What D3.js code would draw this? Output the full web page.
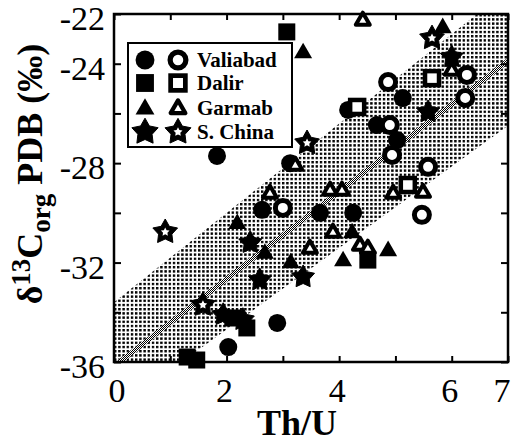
<!DOCTYPE html>
<html>
<head>
<meta charset="utf-8">
<script src="https://cdn.jsdelivr.net/npm/d3@7"></script>
<style>
  body { margin: 0; background: #fff; }
  text { font-family: "Liberation Serif", "Times New Roman", serif; }
</style>
</head>
<body>
<div id="chart"></div>
<script>
// data: [Th/U, d13C org]
var valiabadFilled = [[1.83,-27.71],[2.03,-35.40],[2.90,-34.43],[3.13,-28.0],[2.63,-29.88],[3.66,-30.0],[4.25,-30.0],[4.16,-25.86],[4.67,-26.47],[5.13,-25.38],[5.03,-27.07]];
var valiabadOpen = [[4.87,-24.74],[6.27,-24.45],[6.24,-25.38],[4.90,-26.47],[4.94,-27.67],[5.58,-28.15],[5.47,-30.08],[3.0,-29.8]];
var dalirFilled = [[3.07,-22.72],[4.51,-31.9],[2.36,-34.63],[1.30,-35.8],[1.47,-35.92],[2.11,-34.23]];
var dalirOpen = [[4.32,-25.74],[5.65,-24.58],[5.22,-28.88]];
var garmabFilled = [[3.36,-23.53],[5.84,-22.52],[4.23,-30.77],[4.87,-31.49],[4.07,-31.9],[2.19,-30.4],[2.68,-31.6],[3.14,-31.98]];
var garmabOpen = [[4.42,-22.24],[6.0,-24.25],[3.22,-28.07],[2.77,-29.2],[3.84,-29.08],[4.05,-29.08],[4.96,-29.2],[5.49,-29.16],[3.89,-30.77],[3.48,-31.41],[4.37,-31.29],[4.51,-31.41]];
var chinaFilled = [[6.0,-23.73],[5.58,-25.94],[3.36,-32.58],[2.42,-31.2],[2.59,-32.7],[1.94,-34.1],[2.29,-34.3]];
var chinaOpen = [[5.65,-22.97],[3.43,-27.19],[0.91,-30.77],[1.58,-33.7]];

// regression line and the shaded band round it
var fitLine = [[0.1,-36],[7,-23.88]];
var bandUpper = [[0,-33.6],[6.45,-22]];
var bandLower = [[1.2,-36],[7,-26.5]];

var xTickLabels = [0, 2, 4, 6, 7];
var yTickLabels = [-22, -24, -28, -32, -36];
var legendNames = ["Valiabad", "Dalir", "Garmab", "S. China"];

var svgWidth = 513;
var svgHeight = 443;
var margin = { top: 14, right: 5, bottom: 81, left: 114 };
var width = svgWidth - margin.left - margin.right;
var height = svgHeight - margin.top - margin.bottom;

var svg = d3.select("#chart")
    .append("svg")
    .attr("width", svgWidth)
    .attr("height", svgHeight);

var defs = svg.append("defs");

// stipple for the band
var stip = defs.append("pattern")
    .attr("id", "stipple")
    .attr("patternUnits", "userSpaceOnUse")
    .attr("width", 4.2)
    .attr("height", 4.2);
stip.append("rect").attr("width", 2.4).attr("height", 2.4).attr("fill", "#000");

// checker for the fit line
var chk = defs.append("pattern")
    .attr("id", "checker")
    .attr("patternUnits", "userSpaceOnUse")
    .attr("width", 2)
    .attr("height", 2);
chk.append("rect").attr("width", 2).attr("height", 2).attr("fill", "#fff");
chk.append("rect").attr("width", 1).attr("height", 1).attr("fill", "#000");
chk.append("rect").attr("x", 1).attr("y", 1).attr("width", 1).attr("height", 1).attr("fill", "#000");

defs.append("clipPath").attr("id", "plotClip")
    .append("rect").attr("width", width).attr("height", height);

var chartGroup = svg.append("g")
    .attr("transform", `translate(${margin.left}, ${margin.top})`);

var x = d3.scaleLinear().domain([0, 7]).range([0, width]);
var y = d3.scaleLinear().domain([-36, -22]).range([height, 0]);

// band
var bandPts = [[0, -36], bandUpper[0], bandUpper[1], [7, -22], bandLower[1], bandLower[0]];
chartGroup.append("path")
    .attr("clip-path", "url(#plotClip)")
    .attr("d", d3.line().x(d => x(d[0])).y(d => y(d[1]))(bandPts) + "Z")
    .attr("fill", "url(#stipple)");

chartGroup.append("path")
    .attr("clip-path", "url(#plotClip)")
    .attr("d", d3.line().x(d => x(d[0])).y(d => y(d[1]))(fitLine))
    .attr("stroke", "url(#checker)")
    .attr("stroke-width", 5)
    .attr("fill", "none");

// axes: ticks inward on all four sides
var xTicks = d3.range(0, 8);
var yTicks = d3.range(-36, -21, 2);

chartGroup.append("g")
    .attr("transform", `translate(0, ${height})`)
    .call(d3.axisBottom(x).tickValues(xTicks).tickSizeInner(-6).tickSizeOuter(0).tickFormat(""));
chartGroup.append("g")
    .call(d3.axisTop(x).tickValues(xTicks).tickSizeInner(-6).tickSizeOuter(0).tickFormat(""));
chartGroup.append("g")
    .call(d3.axisLeft(y).tickValues(yTicks).tickSizeInner(-7).tickSizeOuter(0).tickFormat(""));
chartGroup.append("g")
    .attr("transform", `translate(${width}, 0)`)
    .call(d3.axisRight(y).tickValues(yTicks).tickSizeInner(-7).tickSizeOuter(0).tickFormat(""));
chartGroup.selectAll(".domain").remove();
chartGroup.selectAll(".tick line").attr("stroke", "#000").attr("stroke-width", 2);

chartGroup.append("rect")
    .attr("width", width)
    .attr("height", height)
    .attr("fill", "none")
    .attr("stroke", "#000")
    .attr("stroke-width", 2.5);

// tick labels
chartGroup.selectAll(".xlab")
    .data(xTickLabels)
    .enter()
    .append("text")
    .attr("x", d => x(d) + (d == 7 ? -6 : d == 0 ? 3 : -2))
    .attr("y", height + 40)
    .attr("text-anchor", "middle")
    .attr("font-size", "34px")
    .text(d => d);

chartGroup.selectAll(".ylab")
    .data(yTickLabels)
    .enter()
    .append("text")
    .attr("x", -9)
    .attr("y", d => y(d) + 16)
    .attr("text-anchor", "end")
    .attr("font-size", "34px")
    .text(d => d);

// marker shapes
function starPath(ro, ri) {
    var pts = [];
    for (var i = 0; i < 10; i++) {
        var r = i % 2 ? ri : ro;
        var a = -Math.PI / 2 + i * Math.PI / 5;
        pts.push([r * Math.cos(a), r * Math.sin(a)]);
    }
    return d3.line()(pts) + "Z";
}
function triPath(s) {
    var h = s * Math.sqrt(3) / 2;
    return d3.line()([[0, -h * 0.6], [s / 2, h * 0.4], [-s / 2, h * 0.4]]) + "Z";
}

function drawMarker(g, shape, filled, k) {
    k = k || 1;
    if (shape == "circle") {
        if (filled) g.append("circle").attr("r", 9 * k).attr("fill", "#000");
        else g.append("circle").attr("r", 7.5 * k).attr("fill", "#fff").attr("stroke", "#000").attr("stroke-width", 5 * k);
    } else if (shape == "square") {
        if (filled) g.append("rect").attr("x", -8.5 * k).attr("y", -8.5 * k).attr("width", 17 * k).attr("height", 17 * k).attr("fill", "#000");
        else g.append("rect").attr("x", -7 * k).attr("y", -7 * k).attr("width", 14 * k).attr("height", 14 * k)
            .attr("fill", "#fff").attr("stroke", "#000").attr("stroke-width", 4.5 * k);
    } else if (shape == "triangle") {
        if (filled) g.append("path").attr("d", triPath(18 * k)).attr("fill", "#000");
        else g.append("path").attr("d", triPath(14 * k)).attr("fill", "#fff").attr("stroke", "#000")
            .attr("stroke-width", 4 * k).attr("stroke-linejoin", "round");
    } else {
        if (filled) g.append("path").attr("d", starPath(12 * k, 6.5 * k)).attr("fill", "#000").attr("stroke", "#000").attr("stroke-linejoin", "round");
        else {
            g.append("path").attr("d", starPath(13 * k, 7 * k)).attr("fill", "#000").attr("stroke", "#000").attr("stroke-linejoin", "round");
            g.append("path").attr("d", starPath(4.5 * k, 2.3 * k)).attr("fill", "#fff");
        }
    }
}

var seriesList = [
    { data: valiabadFilled, shape: "circle", filled: true },
    { data: valiabadOpen, shape: "circle", filled: false },
    { data: dalirFilled, shape: "square", filled: true },
    { data: dalirOpen, shape: "square", filled: false },
    { data: garmabFilled, shape: "triangle", filled: true },
    { data: garmabOpen, shape: "triangle", filled: false },
    { data: chinaFilled, shape: "star", filled: true },
    { data: chinaOpen, shape: "star", filled: false }
];

seriesList.forEach(function(s) {
    chartGroup.selectAll(null)
        .data(s.data)
        .enter()
        .append("g")
        .attr("transform", d => `translate(${x(d[0])}, ${y(d[1])})`)
        .each(function() { drawMarker(d3.select(this), s.shape, s.filled); });
});

// legend
var legend = svg.append("g").attr("transform", "translate(128, 43)");
legend.append("rect")
    .attr("width", 164)
    .attr("height", 104)
    .attr("fill", "#fff")
    .attr("stroke", "#000")
    .attr("stroke-width", 2);
var shapes = ["circle", "square", "triangle", "star"];
var rowY = [17, 40, 65, 89];
legendNames.forEach(function(name, i) {
    drawMarker(legend.append("g").attr("transform", `translate(17, ${rowY[i]})`), shapes[i], true, i == 3 ? 1.15 : 1.05);
    drawMarker(legend.append("g").attr("transform", `translate(50, ${rowY[i]})`), shapes[i], false, 1.05);
    legend.append("text")
        .attr("x", 69)
        .attr("y", rowY[i] + 7)
        .attr("font-size", "21px")
        .attr("font-weight", "bold")
        .text(name);
});

// axis titles
svg.append("text")
    .attr("x", 297)
    .attr("y", 435)
    .attr("text-anchor", "middle")
    .attr("font-size", "36px")
    .attr("font-weight", "bold")
    .text("Th/U");

var yTitle = svg.append("text")
    .attr("transform", "translate(42, 174) rotate(-90)")
    .attr("text-anchor", "middle")
    .attr("font-size", "36px")
    .attr("font-weight", "bold");
yTitle.append("tspan").text("δ");
yTitle.append("tspan").attr("font-size", "27px").attr("dy", -12).text("13");
yTitle.append("tspan").attr("dy", 12).text("C");
yTitle.append("tspan").attr("font-size", "27px").attr("dy", 8).text("org");
yTitle.append("tspan").attr("dy", -8).text(" PDB (‰)");
</script>
</body>
</html>
